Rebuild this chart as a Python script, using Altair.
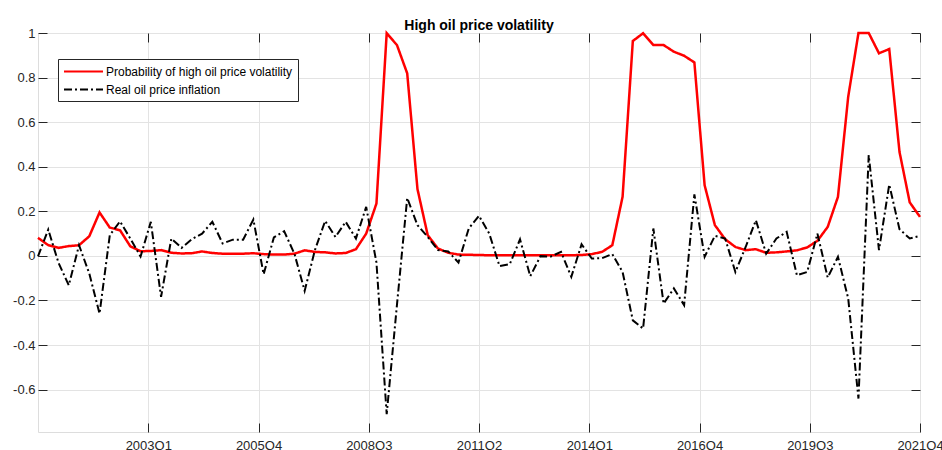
import altair as alt
import pandas as pd

# ---------------- data (quarterly, 2000Q2 .. 2021Q4) ----------------
prob_high_vol = [
    0.081, 0.048, 0.036, 0.044, 0.048, 0.088, 0.195, 0.127, 0.115, 0.043,
    0.021, 0.022, 0.026, 0.014, 0.011, 0.012, 0.020, 0.013, 0.010, 0.010,
    0.010, 0.012, 0.008, 0.006, 0.006, 0.010, 0.025, 0.018, 0.016, 0.011,
    0.013, 0.030, 0.100, 0.235, 0.999, 0.946, 0.819, 0.300, 0.093, 0.033,
    0.014, 0.006, 0.005, 0.004, 0.003, 0.003, 0.003, 0.003, 0.003, 0.003,
    0.003, 0.003, 0.003, 0.004, 0.008, 0.018, 0.048, 0.265, 0.964, 0.999,
    0.946, 0.946, 0.916, 0.898, 0.868, 0.317, 0.138, 0.075, 0.040, 0.026,
    0.030, 0.014, 0.016, 0.020, 0.025, 0.038, 0.068, 0.130, 0.265, 0.714,
    1.000, 1.000, 0.909, 0.928, 0.467, 0.240, 0.175,
]
real_oil_infl = [
    -0.002, 0.118, -0.031, -0.132, 0.048, -0.079, -0.259, 0.093, 0.155, 0.078,
    -0.003, 0.153, -0.184, 0.078, 0.036, 0.075, 0.100, 0.153, 0.056, 0.073,
    0.073, 0.163, -0.082, 0.083, 0.111, 0.010, -0.157, 0.026, 0.157, 0.085,
    0.153, 0.078, 0.220, -0.030, -0.710, -0.220, 0.260, 0.138, 0.085, 0.026,
    0.020, -0.030, 0.123, 0.180, 0.100, -0.046, -0.037, 0.074, -0.091, -0.001,
    -0.003, 0.018, -0.094, 0.052, -0.012, -0.010, 0.008, -0.072, -0.289, -0.326,
    0.123, -0.214, -0.146, -0.221, 0.276, -0.004, 0.090, 0.078, -0.072, 0.040,
    0.160, 0.010, 0.078, 0.108, -0.087, -0.072, 0.100, -0.097, -0.004, -0.191,
    -0.640, 0.452, 0.026, 0.320, 0.120, 0.078, 0.090,
]
series_names = ["Probability of high oil price volatility", "Real oil price inflation"]
x_tick_labels = ["", "2003Q1", "2005Q4", "2008Q3", "2011Q2", "2014Q1", "2016Q4", "2019Q3", "2021Q4"]
y_tick_values = [-0.6, -0.4, -0.2, 0, 0.2, 0.4, 0.6, 0.8, 1]

n = len(prob_high_vol)
idx = list(range(n))
df = pd.DataFrame({
    "t": idx + idx,
    "value": prob_high_vol + real_oil_infl,
    "series": [series_names[0]] * n + [series_names[1]] * n,
})

n_int = len(x_tick_labels) - 1
step = (n - 1) / n_int
x_tick_values = [step * k for k in range(1, n_int + 1)]
lab_arr = "[" + ",".join("'%s'" % s for s in x_tick_labels) + "]"
x_label_expr = "%s[round(datum.value / %f)]" % (lab_arr, step)

FONT = "Liberation Sans"
TXT = "#262626"
GRID = "#e3e3e3"
TICK = 9

xscale = alt.Scale(domain=[0, n - 1], nice=False, zero=False)
yscale = alt.Scale(domain=[-0.79, 1], nice=False, zero=False)

legend = alt.Legend(
    orient="none", legendX=20, legendY=26, title=None,
    symbolType="M-1,0L5,0", symbolSize=169, symbolStrokeWidth=2,
    labelOffset=28, padding=5, rowPadding=4,
    strokeColor="#262626", fillColor="white",
    labelFont=FONT, labelFontSize=12, labelColor="black", labelLimit=400,
)
color = alt.Color("series:N", scale=alt.Scale(domain=series_names, range=["#ff0000", "#000000"]),
                  legend=legend)
dash = alt.StrokeDash("series:N", scale=alt.Scale(domain=series_names, range=[[1, 0], [8, 3, 2, 3]]),
                      legend=legend)

# layer 1: red line + labelled axes with grid
x_main = alt.X("t:Q", scale=xscale, title=None, axis=alt.Axis(
    orient="bottom", values=x_tick_values, labelExpr=x_label_expr, grid=True, gridColor=GRID,
    ticks=False, domain=False, labelFont=FONT, labelFontSize=13, labelColor=TXT,
    labelPadding=7, labelFlush=False, labelOverlap=False, labelBound=False))
y_main = alt.Y("value:Q", scale=yscale, title=None, axis=alt.Axis(
    orient="left", values=y_tick_values, labelExpr="'' + datum.value", grid=True, gridColor=GRID,
    ticks=False, domain=False, labelFont=FONT, labelFontSize=13, labelColor=TXT, labelPadding=3))

red = alt.Chart(df).transform_filter(alt.datum.series == series_names[0]).mark_line(
    strokeWidth=2.5).encode(x=x_main, y=y_main, color=color, strokeDash=dash)

# layer 2: black line + inward ticks bottom/left
def tick_axis(orient, vals):
    return alt.Axis(orient=orient, values=vals, labels=False, grid=False, domain=False,
                    ticks=True, tickSize=TICK, offset=-TICK, tickColor=TXT, tickWidth=1)

black = alt.Chart(df).transform_filter(alt.datum.series == series_names[1]).mark_line(
    strokeWidth=2).encode(
    x=alt.X("t:Q", scale=xscale, title=None, axis=tick_axis("bottom", x_tick_values)),
    y=alt.Y("value:Q", scale=yscale, title=None, axis=tick_axis("left", y_tick_values)),
    color=color, strokeDash=dash)

# layer 3: invisible line carrying top/right inward ticks
ghost = alt.Chart(df).mark_line(strokeOpacity=0).encode(
    x=alt.X("t:Q", scale=xscale, title=None, axis=tick_axis("top", x_tick_values)),
    y=alt.Y("value:Q", scale=yscale, title=None, axis=tick_axis("right", y_tick_values)),
    detail="series:N")

chart = alt.layer(red, black, ghost).resolve_axis(x="independent", y="independent").properties(
    width=882, height=399,
    title=alt.TitleParams("High oil price volatility", font=FONT, fontSize=14, fontWeight="bold",
                          color="black", anchor="middle", baseline="alphabetic", offset=-17, frame="group"),
    padding={"left": 38, "top": 33, "right": 22, "bottom": 18},
    autosize=alt.AutoSizeParams(type="none"),
).configure_view(stroke=TXT, strokeWidth=1).configure(background="white")

chart.save("out.html", embed_options={"renderer": "svg", "actions": False})
